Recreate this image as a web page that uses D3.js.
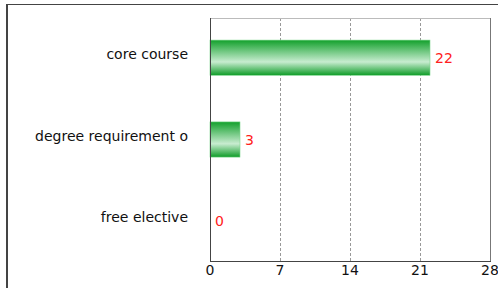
<!DOCTYPE html>
<html>
<head>
<meta charset="utf-8">
<script src="https://cdn.jsdelivr.net/npm/d3@7"></script>
<style>
  body { margin: 0; background: #fff; }
  svg { display: block; font-family: "DejaVu Sans", sans-serif; }
</style>
</head>
<body>
<svg width="498" height="288"></svg>
<script>
// data
const categories = ["core course", "degree requirement o", "free elective"];
const values = [22, 3, 0];
const xTicks = [0, 7, 14, 21, 28];

const svg = d3.select("svg");
const plot = { left: 210, right: 490, top: 18, bottom: 261 };

const x = d3.scaleLinear().domain([0, 28]).range([plot.left, plot.right]);
const y = d3.scaleBand().domain(categories).range([plot.top, plot.bottom]).paddingInner(0.57).paddingOuter(0.27);

// gradient for bars
const grad = svg.append("defs").append("linearGradient")
  .attr("id", "barGrad").attr("x1", 0).attr("y1", 0).attr("x2", 0).attr("y2", 1);
grad.append("stop").attr("offset", "0%").attr("stop-color", "#13a02c");
grad.append("stop").attr("offset", "62%").attr("stop-color", "#c8ecd0");
grad.append("stop").attr("offset", "100%").attr("stop-color", "#0f9c28");

// outer frame
svg.append("line").attr("x1", 7).attr("x2", 7).attr("y1", 4).attr("y2", 288)
  .attr("stroke", "#444").attr("stroke-width", 2);
svg.append("line").attr("x1", 7).attr("x2", 498).attr("y1", 4.5).attr("y2", 4.5)
  .attr("stroke", "#444").attr("stroke-width", 1);

// grid lines
svg.selectAll(".grid").data(xTicks.slice(1, -1)).enter().append("line")
  .attr("x1", d => x(d) + 0.5).attr("x2", d => x(d) + 0.5)
  .attr("y1", plot.top).attr("y2", plot.bottom)
  .attr("stroke", "#999").attr("stroke-dasharray", "3 2");

// plot border
svg.append("line").attr("x1", plot.left).attr("x2", plot.right).attr("y1", plot.top + 0.5).attr("y2", plot.top + 0.5)
  .attr("stroke", "#bbb");
svg.append("line").attr("x1", plot.right + 0.5).attr("x2", plot.right + 0.5).attr("y1", plot.top).attr("y2", plot.bottom)
  .attr("stroke", "#777");

// bars
svg.selectAll(".bar").data(values).enter().append("rect")
  .attr("x", plot.left)
  .attr("y", (d, i) => y(categories[i]))
  .attr("width", d => x(d) - x(0))
  .attr("height", y.bandwidth())
  .attr("fill", "url(#barGrad)")
  .attr("stroke", d => d > 0 ? "#7fd88f" : "none")
  .attr("stroke-width", 0.6);

// value labels
svg.selectAll(".val").data(values).enter().append("text")
  .attr("x", d => x(d) + 5)
  .attr("y", (d, i) => y(categories[i]) + y.bandwidth() / 2 + 5)
  .attr("fill", "#ff2020").attr("font-size", 14)
  .text(d => d);

// category labels
svg.selectAll(".cat").data(categories).enter().append("text")
  .attr("x", 188)
  .attr("y", d => y(d) + y.bandwidth() / 2 + 1)
  .attr("text-anchor", "end").attr("font-size", 14).attr("fill", "#111")
  .text(d => d);

// axes lines
svg.append("line").attr("x1", plot.left + 0.5).attr("x2", plot.left + 0.5).attr("y1", plot.top).attr("y2", plot.bottom + 1)
  .attr("stroke", "#444");
svg.append("line").attr("x1", plot.left).attr("x2", plot.right + 1).attr("y1", plot.bottom + 0.5).attr("y2", plot.bottom + 0.5)
  .attr("stroke", "#444");

// x tick labels
svg.selectAll(".tick").data(xTicks).enter().append("text")
  .attr("x", d => x(d))
  .attr("y", 275)
  .attr("text-anchor", "middle").attr("font-size", 14).attr("fill", "#111")
  .text(d => d);
</script>
</body>
</html>
